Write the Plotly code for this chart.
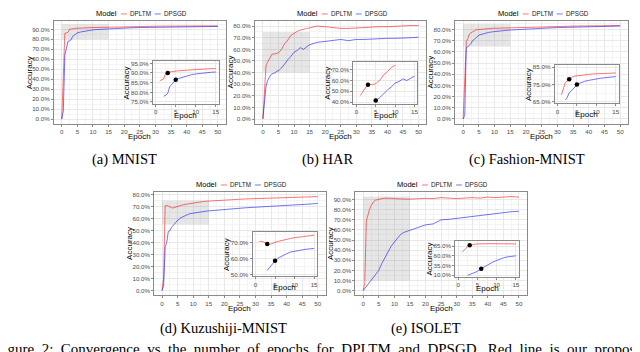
import plotly.graph_objects as go

W, H = 640, 352
SANS = "Liberation Sans, Arial, sans-serif"
SERIF = "Liberation Serif, Times New Roman, serif"

# ---- data (accuracy in %) ----
epochs = [0, 0.5, 1, 1.5, 2, 2.5, 3, 3.5, 4, 4.5, 5, 6, 7, 8, 9, 10, 11, 12, 13, 14, 15,
          17.5, 20, 22.5, 25, 27.5, 30, 32.5, 35, 37.5, 40, 42.5, 45, 47.5, 50]

mnist_dpltm = [0, 40, 86, 86.5, 87, 90, 90, 90.5, 90.7, 91, 91, 91.2, 91.4, 91.5, 91.7, 91.8, 91.9, 92,
               92.1, 92.2, 92.3, 92.5, 92.6, 92.8, 93, 93, 93.1, 93.2, 93.3, 93.3, 93.4, 93.4, 93.5, 93.5, 93.5]
mnist_dpsgd = [0, 8, 64, 70, 78, 78.5, 79.5, 83, 84, 85, 86.5, 87.3, 88, 88.7, 89.2, 89.5, 89.8, 90,
               90.2, 90.4, 90.5, 91, 91.4, 91.6, 91.8, 92, 92.1, 92.2, 92.3, 92.4, 92.5, 92.6, 92.7, 92.8, 92.9]
har_dpltm = [0, 25, 46, 49, 51, 54, 56, 56, 56, 56.5, 57, 60, 65, 68, 72, 74, 75.5, 76.5, 77.5, 78,
             78.5, 80, 79.5, 78.5, 78, 78, 78.5, 79, 79, 79.5, 79.5, 80, 80, 80.5, 80.5]
har_dpsgd = [0, 15, 28, 33, 36, 38, 39, 39.5, 39.8, 41.5, 41.5, 44, 48, 51, 54, 57.5, 59, 61.5, 60, 62,
             64, 66, 67, 67.5, 68.5, 67.5, 68.5, 68.5, 69, 69, 69.5, 69.5, 69.5, 70, 70.5]
fashion_dpltm = [0, 35, 69, 72, 76, 77, 78, 79, 79.5, 79.8, 80, 80.3, 80.6, 80.8, 81, 81.1, 81.2, 81.3,
                 81.4, 81.5, 81.6, 81.8, 82, 82.2, 82.4, 82.6, 82.8, 82.9, 83, 83.1, 83.2, 83.3, 83.4, 83.5, 83.5]
fashion_dpsgd = [0, 3, 64, 64.5, 66, 67.5, 70, 71, 72, 73.5, 75, 76, 76.8, 77.3, 77.8, 78.2, 78.5, 78.8,
                 79, 79.3, 79.5, 80, 80.4, 80.8, 81.1, 81.4, 81.7, 81.9, 82.1, 82.3, 82.5, 82.7, 82.8, 83, 83.1]
kmnist_dpltm = [0, 10, 70.5, 70.8, 70.3, 69.5, 69, 68.7, 69, 69.5, 70, 70.8, 71.5, 72, 72.5, 73, 73.3,
                73.7, 74, 74.3, 74.5, 75, 75.5, 75.8, 76, 76.3, 76.5, 76.8, 77, 77.2, 77.5, 77.7, 77.8, 78, 78.2]
kmnist_dpsgd = [0, 4, 36, 40, 49, 49.8, 52.5, 54, 56, 57.5, 58.5, 60.5, 62, 63, 64, 64.5, 65, 65.5, 65.8,
                66, 66.3, 67, 67.5, 68, 68.5, 69, 69.3, 69.7, 70, 70.5, 70.8, 71.2, 71.5, 72, 72.5]
isolet_dpltm = [0, 8, 69, 75, 80, 84, 87, 88.5, 89.5, 90, 90.5, 91, 91.5, 91.7, 91.3, 91, 90.7, 90.5,
                90.6, 90.5, 90.5, 91, 91.3, 91, 92, 91.5, 91, 91.5, 92, 91.5, 92.5, 92, 92.5, 93, 92.5]
isolet_dpsgd = [0, 2, 4, 6, 8, 10, 12, 14, 16, 18, 20, 27, 33, 39, 44, 48, 52, 55.5, 57.5, 58.5, 60,
                62.5, 65, 66, 70, 70.5, 71.5, 72, 73, 74.5, 75.5, 76, 77, 78, 78.5]

captions = ["(a) MNIST", "(b) HAR", "(c) Fashion-MNIST", "(d) Kuzushiji-MNIST", "(e) ISOLET"]
dpltm = [mnist_dpltm, har_dpltm, fashion_dpltm, kmnist_dpltm, isolet_dpltm]
dpsgd = [mnist_dpsgd, har_dpsgd, fashion_dpsgd, kmnist_dpsgd, isolet_dpsgd]

# zoomed window of each panel (shaded box) and inset y limits
shade_y = [(80, 95), (40, 75), (65, 85), (55, 75), (10, 93)]
inset_ylim = [(75, 95), (40, 75), (65, 85), (50, 75), (10, 93)]
inset_ytick = [(75, 5), (40, 10), (65, 10), (50, 10), (10, 25)]
mark_dpltm = [3, 3, 3, 3, 3]
mark_dpsgd = [5, 5, 5, 5, 6]
main_yrange = [(-4.6, 98.5), (-4.0, 84.5), (-4.2, 87.7), (-3.9, 82.1), (-4.65, 97.65)]

# ---- layout in pixels: left, right, top, bottom ----
main_box = [(46, 218, 11, 115), (247.5, 419, 11, 115), (448, 621, 11, 115),
            (146.5, 318, 184, 288.5), (348, 519.5, 184, 288.5)]
inset_box = [(145, 211, 52, 95), (346, 410, 53, 95), (547.5, 611.5, 56, 94.5),
             (245, 309.5, 225, 269.5), (448, 511.5, 234, 270)]
caption_x = [117, 320, 520, 216, 419]

RED = "rgba(255,0,0,0.55)"
BLUE = "rgba(0,0,255,0.55)"


def X(p):
    return p / W


def Y(p):
    return 1 - p / H


axis_common = dict(showline=True, mirror=True, linecolor="#8a8a8a", linewidth=1,
                   ticks="outside", ticklen=2, tickcolor="#8a8a8a", tickwidth=1,
                   showgrid=True, gridcolor="#e8e8e8", gridwidth=1, zeroline=False,
                   tickfont=dict(family=SANS, size=6.2, color="#4d4d4d"), fixedrange=True)

fig = go.Figure()
layout = {}
shapes = []
anns = []


def text(x, y, s, size, anchor="center", angle=0, family=SANS, color="black"):
    anns.append(dict(x=X(x), y=Y(y), xref="paper", yref="paper", text=s, showarrow=False,
                     xanchor=anchor, yanchor="middle", textangle=angle, borderpad=0,
                     font=dict(family=family, size=size, color=color)))


for i in range(5):
    m, n = i + 1, i + 6
    xm, ym = ("x", "y") if m == 1 else (f"x{m}", f"y{m}")
    xn, yn = f"x{n}", f"y{n}"
    l, r, t, b = main_box[i]

    # main panel
    layout["xaxis" if m == 1 else f"xaxis{m}"] = dict(
        axis_common, domain=[X(l), X(r)], range=[-2.5, 52.5], anchor=ym,
        tickmode="linear", tick0=0, dtick=5,
        minor=dict(showgrid=True, gridcolor="#f4f4f4", tick0=0, dtick=2.5))
    layout["yaxis" if m == 1 else f"yaxis{m}"] = dict(
        axis_common, domain=[Y(b), Y(t)], range=list(main_yrange[i]), anchor=xm,
        tickmode="linear", tick0=0, dtick=10, tickformat=".1f", ticksuffix="%",
        minor=dict(showgrid=True, gridcolor="#f4f4f4", tick0=0, dtick=5))

    y0, y1 = shade_y[i]
    shapes.append(dict(type="rect", xref=xm, yref=ym, x0=0, x1=15, y0=y0, y1=y1,
                       fillcolor="rgba(128,128,128,0.2)", line=dict(width=0), layer="between"))

    fig.add_trace(go.Scatter(x=epochs, y=dpltm[i], mode="lines", line=dict(color=RED, width=1),
                             xaxis=xm, yaxis=ym, showlegend=False))
    fig.add_trace(go.Scatter(x=epochs, y=dpsgd[i], mode="lines", line=dict(color=BLUE, width=1),
                             xaxis=xm, yaxis=ym, showlegend=False))

    # inset
    il, ir, it, ib = inset_box[i]
    lo, hi = inset_ylim[i]
    pad = 0.05 * (hi - lo)
    t0, dt = inset_ytick[i]
    layout[f"xaxis{n}"] = dict(
        axis_common, domain=[X(il), X(ir)], range=[-0.75, 15.75], anchor=yn,
        tickmode="linear", tick0=0, dtick=5,
        minor=dict(showgrid=True, gridcolor="#f4f4f4", tick0=0, dtick=2.5))
    layout[f"yaxis{n}"] = dict(
        axis_common, domain=[Y(ib), Y(it)], range=[lo - pad, hi + pad], anchor=xn,
        tickmode="linear", tick0=t0, dtick=dt, tickformat=".1f", ticksuffix="%",
        minor=dict(showgrid=True, gridcolor="#f4f4f4", tick0=t0, dtick=dt / 2))

    for series, col in ((dpltm[i], RED), (dpsgd[i], BLUE)):
        pts = [(e, v) for e, v in zip(epochs, series) if e <= 15 and lo <= v <= hi]
        fig.add_trace(go.Scatter(x=[p[0] for p in pts], y=[p[1] for p in pts], mode="lines",
                                 line=dict(color=col, width=1), xaxis=xn, yaxis=yn, showlegend=False))
    mx = [mark_dpltm[i], mark_dpsgd[i]]
    my = [dpltm[i][epochs.index(mx[0])], dpsgd[i][epochs.index(mx[1])]]
    fig.add_trace(go.Scatter(x=mx, y=my, mode="markers", marker=dict(color="black", size=4.5),
                             xaxis=xn, yaxis=yn, showlegend=False))

    # axis titles
    cx = (l + r) / 2
    text(l - 25, (t + b) / 2, "Accuracy", 8, angle=-90)
    text(cx, b + 13, "Epoch", 8)
    text(il - 26, (it + ib) / 2, "Accuracy", 8, angle=-90)
    text((il + ir) / 2, ib + 11.5, "Epoch", 8)

    # legend
    ly = t - 7
    text(cx - 45, ly, "Model", 7.5, anchor="left")
    shapes.append(dict(type="line", xref="paper", yref="paper", x0=X(cx - 19), x1=X(cx - 13),
                       y0=Y(ly), y1=Y(ly), line=dict(color=RED, width=1)))
    text(cx - 11, ly, "DPLTM", 6.3, anchor="left", color="#1a1a1a")
    shapes.append(dict(type="line", xref="paper", yref="paper", x0=X(cx + 15), x1=X(cx + 21),
                       y0=Y(ly), y1=Y(ly), line=dict(color=BLUE, width=1)))
    text(cx + 23, ly, "DPSGD", 6.3, anchor="left", color="#1a1a1a")

    # sub caption
    text(caption_x[i], 151 if i < 3 else 322, captions[i], 14.5, family=SERIF)

words = "Figure 2: Convergence vs the number of epochs for DPLTM and DPSGD. Red line is our proposed method.".split()
text(-14, 343, "&nbsp; ".join(words), 15, anchor="left", family=SERIF)

fig.update_layout(width=W, height=H, margin=dict(l=0, r=0, t=0, b=0),
                  paper_bgcolor="white", plot_bgcolor="white",
                  shapes=shapes, annotations=anns, **layout)

fig.write_html("out.html")
